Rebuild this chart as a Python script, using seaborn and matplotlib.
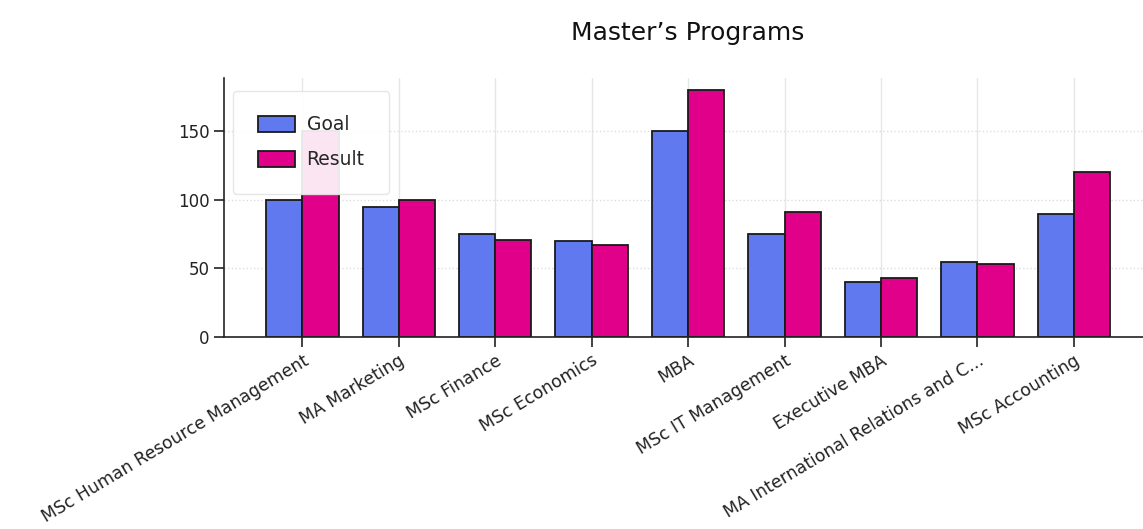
import matplotlib
matplotlib.use("Agg")
import matplotlib.pyplot as plt
import seaborn as sns
import pandas as pd

categories = [
    "MSc Human Resource Management",
    "MA Marketing",
    "MSc Finance",
    "MSc Economics",
    "MBA",
    "MSc IT Management",
    "Executive MBA",
    "MA International Relations and C...",
    "MSc Accounting",
]
goal = [100, 95, 75, 70, 150, 75, 40, 55, 90]
result = [150, 100, 71, 67, 180, 91, 43, 53, 120]
series = ["Goal", "Result"]
colors = ["#6079EE", "#E0008A"]
yticks = [0, 50, 100, 150]

df = pd.DataFrame({
    "program": categories * 2,
    "value": goal + result,
    "series": [series[0]] * len(categories) + [series[1]] * len(categories),
})

sns.set_style("white")
plt.rcParams["font.family"] = ["DejaVu Sans"]

fig = plt.figure(figsize=(11.43, 5.29), dpi=100)
ax = fig.add_axes([0.196, 0.363, 0.812, 0.49])

sns.barplot(data=df, x="program", y="value", hue="series", order=categories,
            hue_order=series, palette=colors, width=0.75, edgecolor="#1a1a1a",
            linewidth=1.3, saturation=1, ax=ax, errorbar=None)

ax.set_xlim(-0.8125, len(categories) - 1 + 0.8125)
ax.set_ylim(0, 189)
ax.set_yticks(yticks)
ax.set_xlabel("")
ax.set_ylabel("")

ax.set_axisbelow(True)
ax.xaxis.grid(True, color="#e6e6e6", linestyle="-", linewidth=1.0)
ax.yaxis.grid(True, color="#dddddd", linestyle=":", linewidth=1.0)

for s in ["top", "right"]:
    ax.spines[s].set_visible(False)
for s in ["left", "bottom"]:
    ax.spines[s].set_color("#222222")
    ax.spines[s].set_linewidth(1.2)

ax.tick_params(axis="both", which="both", direction="out", length=7, width=1.2,
               color="#222222", labelcolor="#222222")
ax.tick_params(axis="y", left=True, labelsize=12)
ax.tick_params(axis="x", bottom=True, labelsize=12.4)
plt.setp(ax.get_xticklabels(), rotation=31, ha="right", rotation_mode="anchor")

ax.set_title("Master\u2019s Programs", fontsize=18, pad=27, color="#111111")

leg = ax.legend(loc="upper left", bbox_to_anchor=(0.0, 0.985), fontsize=13.5,
                borderpad=1.3, labelspacing=0.85, frameon=True, framealpha=0.9,
                edgecolor="#e4e4e4", fancybox=True, handlelength=2.0,
                handleheight=0.95, handletextpad=0.6)

fig.savefig("out.png", dpi=100)
